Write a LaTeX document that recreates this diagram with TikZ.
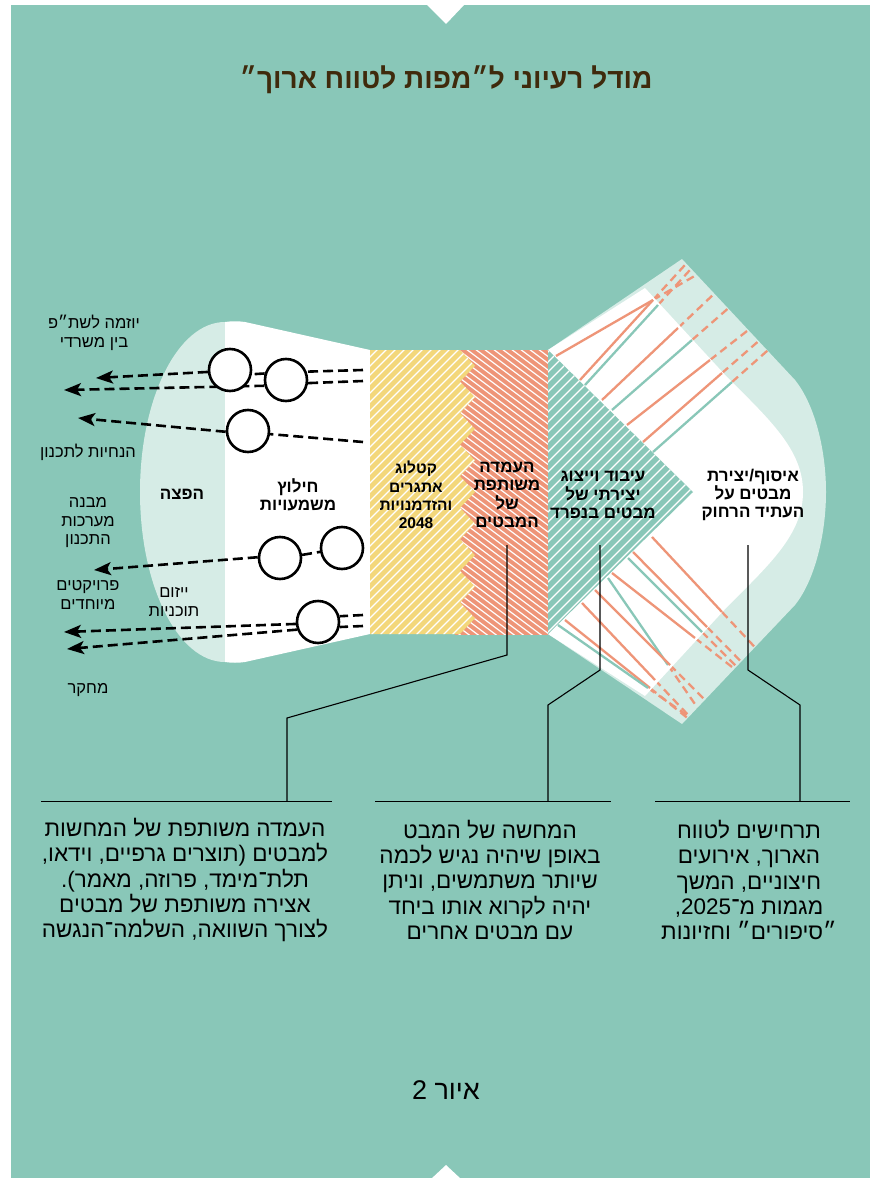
\documentclass[tikz,border=0pt]{standalone}
\usepackage{fontspec}
\usetikzlibrary{arrows.meta,calc}
\newfontfamily\heb[Script=Hebrew]{Liberation Sans}
\TeXXeTstate=1
\newcommand{\HR}[1]{\beginR #1\endR}
\definecolor{bgteal}{HTML}{89C7B8}
\definecolor{lightteal}{HTML}{D6ECE6}
\definecolor{yel}{HTML}{F3D77B}
\definecolor{salm}{HTML}{EE9578}
\definecolor{titlebrown}{HTML}{3F2A0C}
\pgfdeclarelayer{shapes}
\pgfdeclarelayer{lines}
\pgfsetlayers{shapes,lines,main}
\tikzset{
  circ/.style={circle, draw=black, fill=white, line width=2.6pt, minimum size=42pt, inner sep=0pt},
  dline/.style={black, line width=2.6pt, dash pattern=on 10pt off 5pt},
  arr/.style={dline, -{Stealth[length=17pt,width=13pt,inset=4pt]}},
  lead/.style={black, line width=1.1pt},
  lab/.style={font=\heb\fontsize{16.5}{18.5}\selectfont, align=center, inner sep=0pt},
  blab/.style={font=\heb\bfseries\fontsize{17}{18.3}\selectfont, align=center, inner sep=0pt},
  body/.style={font=\heb\fontsize{22.5}{25.3}\selectfont, align=center, inner sep=0pt},
  fanline/.style={line width=2.3pt},
  banddash/.style={salm, line width=2.3pt, dash pattern=on 8pt off 5pt},
  hatch/.style={white, line width=1.2pt},
}
\begin{document}
\begin{tikzpicture}[x=1pt,y=-1pt]
\useasboundingbox (0,0) rectangle (870,1180);
\begin{pgfonlayer}{shapes}
% panel
\fill[white] (0,0) rectangle (870,1180);
\fill[bgteal] (11,5) rectangle (870,1178);
\fill[white] (426,4) -- (465,4) -- (446,24) -- cycle;
\fill[white] (431,1179) -- (461,1179) -- (446,1165) -- cycle;
% left light ellipse and white body
\fill[lightteal] (225,322) .. controls (178,322) and (140,398) .. (140,492)
   .. controls (140,586) and (178,662) .. (225,662) -- cycle;
\fill[white] (225,322) .. controls (232,321) and (238,321) .. (245,322) -- (370,350)
   -- (370,634) -- (245,662) .. controls (238,663) and (232,663) .. (225,662) -- cycle;
% salmon column
\begin{scope}
  \clip (455,350) rectangle (548,634);
  \fill[salm] (450,340) rectangle (560,640);
  \foreach \a in {40,49,...,560} \draw[hatch] (\a,340) -- ++(400,300);
\end{scope}
% yellow column with zigzag edge
\begin{scope}
  \clip (370,350) \foreach \k in {0,...,18} { -- ({460+15*mod(\k,2)},{350+\k*284/18}) } -- (370,634) -- cycle;
  \fill[yel] (360,340) rectangle (490,640);
  \foreach \a in {60,69,...,490} \draw[hatch, line width=1.1pt] (\a,640) -- ++(300,-300);
\end{scope}
% right fan: light band
\fill[lightteal] (548,350) -- (682,259) -- (795,380) .. controls (815,405) and (826,450) .. (826,492)
   .. controls (826,534) and (815,580) .. (795,605) -- (682,724) -- (548,634) -- cycle;
\begin{scope}
  \clip (548,350) -- (682,259) -- (795,380) .. controls (815,405) and (826,450) .. (826,492)
   .. controls (826,534) and (815,580) .. (795,605) -- (682,724) -- (548,634) -- cycle;
  \foreach \sx/\sy/\ex/\ey in {556/356/653/300, 580/380/653/300, 585/385/658/305, 602/400/678/328,
      612/410/692/340, 627/425/710/360, 643/442/722/373, 653/452/732/382,
      652/537/722/612, 628/558/702/632, 633/552/707/627, 612/573/695/638, 608/578/668/665,
      595/590/670/665, 582/603/655/680, 565/620/650/688, 558/625/648/688}
    \draw[banddash] (\ex,\ey) -- ($(\ex,\ey)!-0.9!(\sx,\sy)$);
\end{scope}
% white inner
\fill[white] (548,350) -- (645,288) -- (727,377) .. controls (770,420) and (803,450) .. (803,492)
   .. controls (803,534) and (770,564) .. (727,607) -- (645,696) -- (548,634) -- cycle;
% solid fan lines
\foreach \sx/\sy/\ex/\ey/\col in {556/356/653/300/salm, 580/380/653/300/salm, 585/385/658/305/bgteal,
    602/400/678/328/salm, 612/410/692/340/bgteal, 627/425/710/360/salm, 643/442/722/373/salm,
    653/452/732/382/bgteal,
    652/537/722/612/salm, 628/558/702/632/bgteal, 633/552/707/627/salm, 612/573/695/638/salm,
    608/578/668/665/bgteal, 595/590/670/665/salm, 582/603/655/680/salm, 565/620/650/688/salm,
    558/625/648/688/bgteal}
  \draw[fanline, draw=\col] (\sx,\sy) -- (\ex,\ey);
% teal triangle
\begin{scope}
  \clip (548,350) -- (693,492) -- (548,634) -- cycle;
  \fill[bgteal] (540,340) rectangle (700,640);
  \foreach \a in {240,250,...,710} \draw[hatch, line width=1.3pt] (\a,640) -- ++(300,-300);
\end{scope}
\end{pgfonlayer}

% circles
\node[circ] (c1) at (230,370) {};
\node[circ] (c2) at (286,380) {};
\node[circ] (c3) at (248,431) {};
\node[circ] (c4) at (280,558) {};
\node[circ] (c5) at (342,548) {};
\node[circ] (c6) at (318,622) {};
\coordinate (tA) at (96,378);
\coordinate (tB) at (64,390);
\coordinate (tC) at (78,418);
\coordinate (tD) at (94,570);
\coordinate (tE) at (64,632);
\coordinate (tF) at (67,649);
\coordinate (y2a) at (363,370);
\coordinate (y2b) at (363,381);
\coordinate (y3) at (363,442);
\coordinate (y6a) at (363,615);
\coordinate (y6b) at (363,626);

\begin{pgfonlayer}{lines}
\draw[dline] (y2a) -- (c2.22);
\draw[dline] (y2b) -- (c2.-8);
\draw[dline] (c2.163) -- (c1.-11);
\draw[arr] (c1.185) -- (tA);
\draw[arr] (c2.195) -- (tB);
\draw[dline] (y3) -- (c3.-8);
\draw[arr] (c3.182) -- (tC);
\draw[dline] (c4.8) -- (c5.190);
\draw[arr] (c4.178) -- (tD);
\draw[dline] (y6a) -- (c6.15);
\draw[dline] (y6b) -- (c6.-13);
\draw[arr] (c6.185) -- (tE);
\draw[arr] (c6.200) -- (tF);
\end{pgfonlayer}

% leaders
\coordinate (s1) at (507,545);
\coordinate (s2) at (600,545);
\coordinate (s3) at (748,545);
\coordinate (e1) at (287,801.5);
\coordinate (e2) at (548,801.5);
\coordinate (e3) at (800,801.5);
\draw[lead] (s1) -- (507,655) -- (287,718) -- (e1);
\draw[lead] (s2) -- (600,670) -- (548,705) -- (e2);
\draw[lead] (s3) -- (748,670) -- (800,705) -- (e3);
\draw[lead] (41,801.5) -- (332,801.5);
\draw[lead] (375,801.5) -- (611,801.5);
\draw[lead] (655,801.5) -- (850,801.5);

% title
\node[font=\heb\bfseries\fontsize{28}{32}\selectfont, text=titlebrown, inner sep=0pt] (title) at (446,80)
  {\HR{מודל רעיוני ל״מפות לטווח ארוך״}};

% left labels
\node[lab] (l1) at (94,333) {\HR{יוזמה לשת״פ}\\\HR{בין משרדי}};
\node[lab] (l2) at (88,452) {\HR{הנחיות לתכנון}};
\node[lab] (l3) at (88,523) {\HR{מבנה}\\\HR{מערכות}\\\HR{התכנון}};
\node[lab] (l4) at (88,595) {\HR{פרויקטים}\\\HR{מיוחדים}};
\node[lab] (l5) at (174,602) {\HR{ייזום}\\\HR{תוכניות}};
\node[lab] (l6) at (88,690) {\HR{מחקר}};

% bold labels
\node[blab] (b1) at (182,494) {\HR{הפצה}};
\node[blab] (b2) at (298,495) {\HR{חילוץ}\\\HR{משמעויות}};
\node[blab, font=\heb\bfseries\fontsize{15.5}{18.3}\selectfont] (b3) at (416,495) {\HR{קטלוג}\\\HR{אתגרים}\\\HR{והזדמנויות}\\2048};
\node[blab] (b4) at (507,495) {\HR{העמדה}\\\HR{משותפת}\\\HR{של}\\\HR{המבטים}};
\node[blab] (b5) at (603,495) {\HR{עיבוד וייצוג}\\\HR{יצירתי של}\\\HR{מבטים בנפרד}};
\node[blab] (b6) at (753,495) {\HR{איסוף/יצירת}\\\HR{מבטים על}\\\HR{העתיד הרחוק}};

% bottom texts
\node[body] (t1) at (185,880) {\HR{העמדה משותפת של המחשות}\\\HR{למבטים (תוצרים גרפיים, וידאו,}\\\HR{תלת־מימד, פרוזה, מאמר).}\\\HR{אצירה משותפת של מבטים}\\\HR{לצורך השוואה, השלמה־הנגשה}};
\node[body] (t2) at (490,880) {\HR{המחשה של המבט}\\\HR{באופן שיהיה נגיש לכמה}\\\HR{שיותר משתמשים, וניתן}\\\HR{יהיה לקרוא אותו ביחד}\\\HR{עם מבטים אחרים}};
\node[body] (t3) at (749,880) {\HR{תרחישים לטווח}\\\HR{הארוך, אירועים}\\\HR{חיצוניים, המשך}\\\HR{מגמות מ־\beginL 2025\endL{},}\\\HR{״סיפורים״ וחזיונות}};

\node[body, font=\heb\fontsize{27}{30}\selectfont] (fig) at (446,1090) {\HR{איור 2}};
\end{tikzpicture}
\end{document}
